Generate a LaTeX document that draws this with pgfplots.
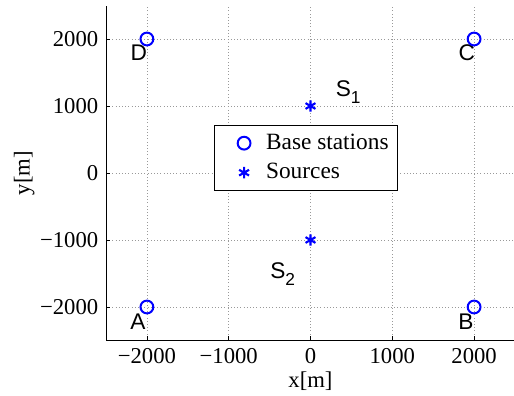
\documentclass[border=0pt]{standalone}
\usepackage{fontspec}
\setmainfont{Liberation Serif}
\newfontfamily\helv{Liberation Sans}
\usepackage{pgfplots}
\pgfplotsset{compat=1.18}
\newcommand{\sub}[1]{\raisebox{-0.55ex}{\fontsize{13pt}{15pt}\selectfont #1}}
\pgfplotsset{mylegend/.style={legend image code/.code={\path[draw=none,fill=none] (0pt,0pt) -- (32pt,0pt); \draw[##1] plot coordinates {(17.5pt,0pt)};}}}
\begin{document}
\fontsize{17pt}{20pt}\selectfont
\begin{tikzpicture}
\useasboundingbox (0,0) rectangle (385.5pt,297pt);
\begin{axis}[
  at={(79.5pt,41.625pt)}, anchor=south west,
  scale only axis, width=306.75pt, height=251.25pt,
  xmin=-2500, xmax=2500, ymin=-2500, ymax=2500,
  axis x line*=bottom, axis y line*=left,
  axis line style={line width=0.6pt},
  tick align=inside, major tick length=3pt,
  tick style={black, line width=0.5pt},
  xtick={-2000,-1000,0,1000,2000},
  ytick={-2000,-1000,0,1000,2000},
  xticklabels={−2000,−1000,0,1000,2000},
  yticklabels={−2000,−1000,0,1000,2000},
  ticklabel style={font=\fontsize{17pt}{20pt}\selectfont},
  grid=major,
  major grid style={dotted, gray!80, line width=0.5pt},
  xlabel={x[m]}, ylabel={y[m]},
  label style={font=\fontsize{17pt}{20pt}\selectfont},
  xlabel style={at={(0.5,-0.121)}, anchor=center},
  ylabel style={at={(-0.2,0.5)}, anchor=center, rotate=0},
  legend style={at={(0.489,0.545)}, anchor=center, draw=black, line width=0.6pt,
    font=\fontsize{17.5pt}{20pt}\selectfont, cells={anchor=west},
    inner xsep=4.5pt, inner ysep=4.5pt, row sep=4pt},
  clip=false,
]
\addplot[only marks, mark=o, mark size=4.8pt, blue, mark options={line width=1.5pt}, mylegend]
  coordinates {(-2000,-2000) (2000,-2000) (2000,2000) (-2000,2000)};
\addlegendentry{Base stations}
\addplot[only marks, mark=asterisk, mark size=4.3pt, blue, mark options={line width=1.6pt}, mylegend]
  coordinates {(0,1000) (0,-1000)};
\addlegendentry{Sources}
\node[font=\helv\fontsize{17pt}{20pt}\selectfont] at (axis cs:-2110,-2220) {A};
\node[font=\helv\fontsize{17pt}{20pt}\selectfont] at (axis cs:1900,-2220) {B};
\node[font=\helv\fontsize{17pt}{20pt}\selectfont] at (axis cs:1910,1790) {C};
\node[font=\helv\fontsize{17pt}{20pt}\selectfont] at (axis cs:-2100,1790) {D};
\node[font=\helv\fontsize{17pt}{20pt}\selectfont] at (axis cs:460,1210) {S\sub{1}};
\node[font=\helv\fontsize{17pt}{20pt}\selectfont] at (axis cs:-340,-1510) {S\sub{2}};
\end{axis}
\end{tikzpicture}
\end{document}
